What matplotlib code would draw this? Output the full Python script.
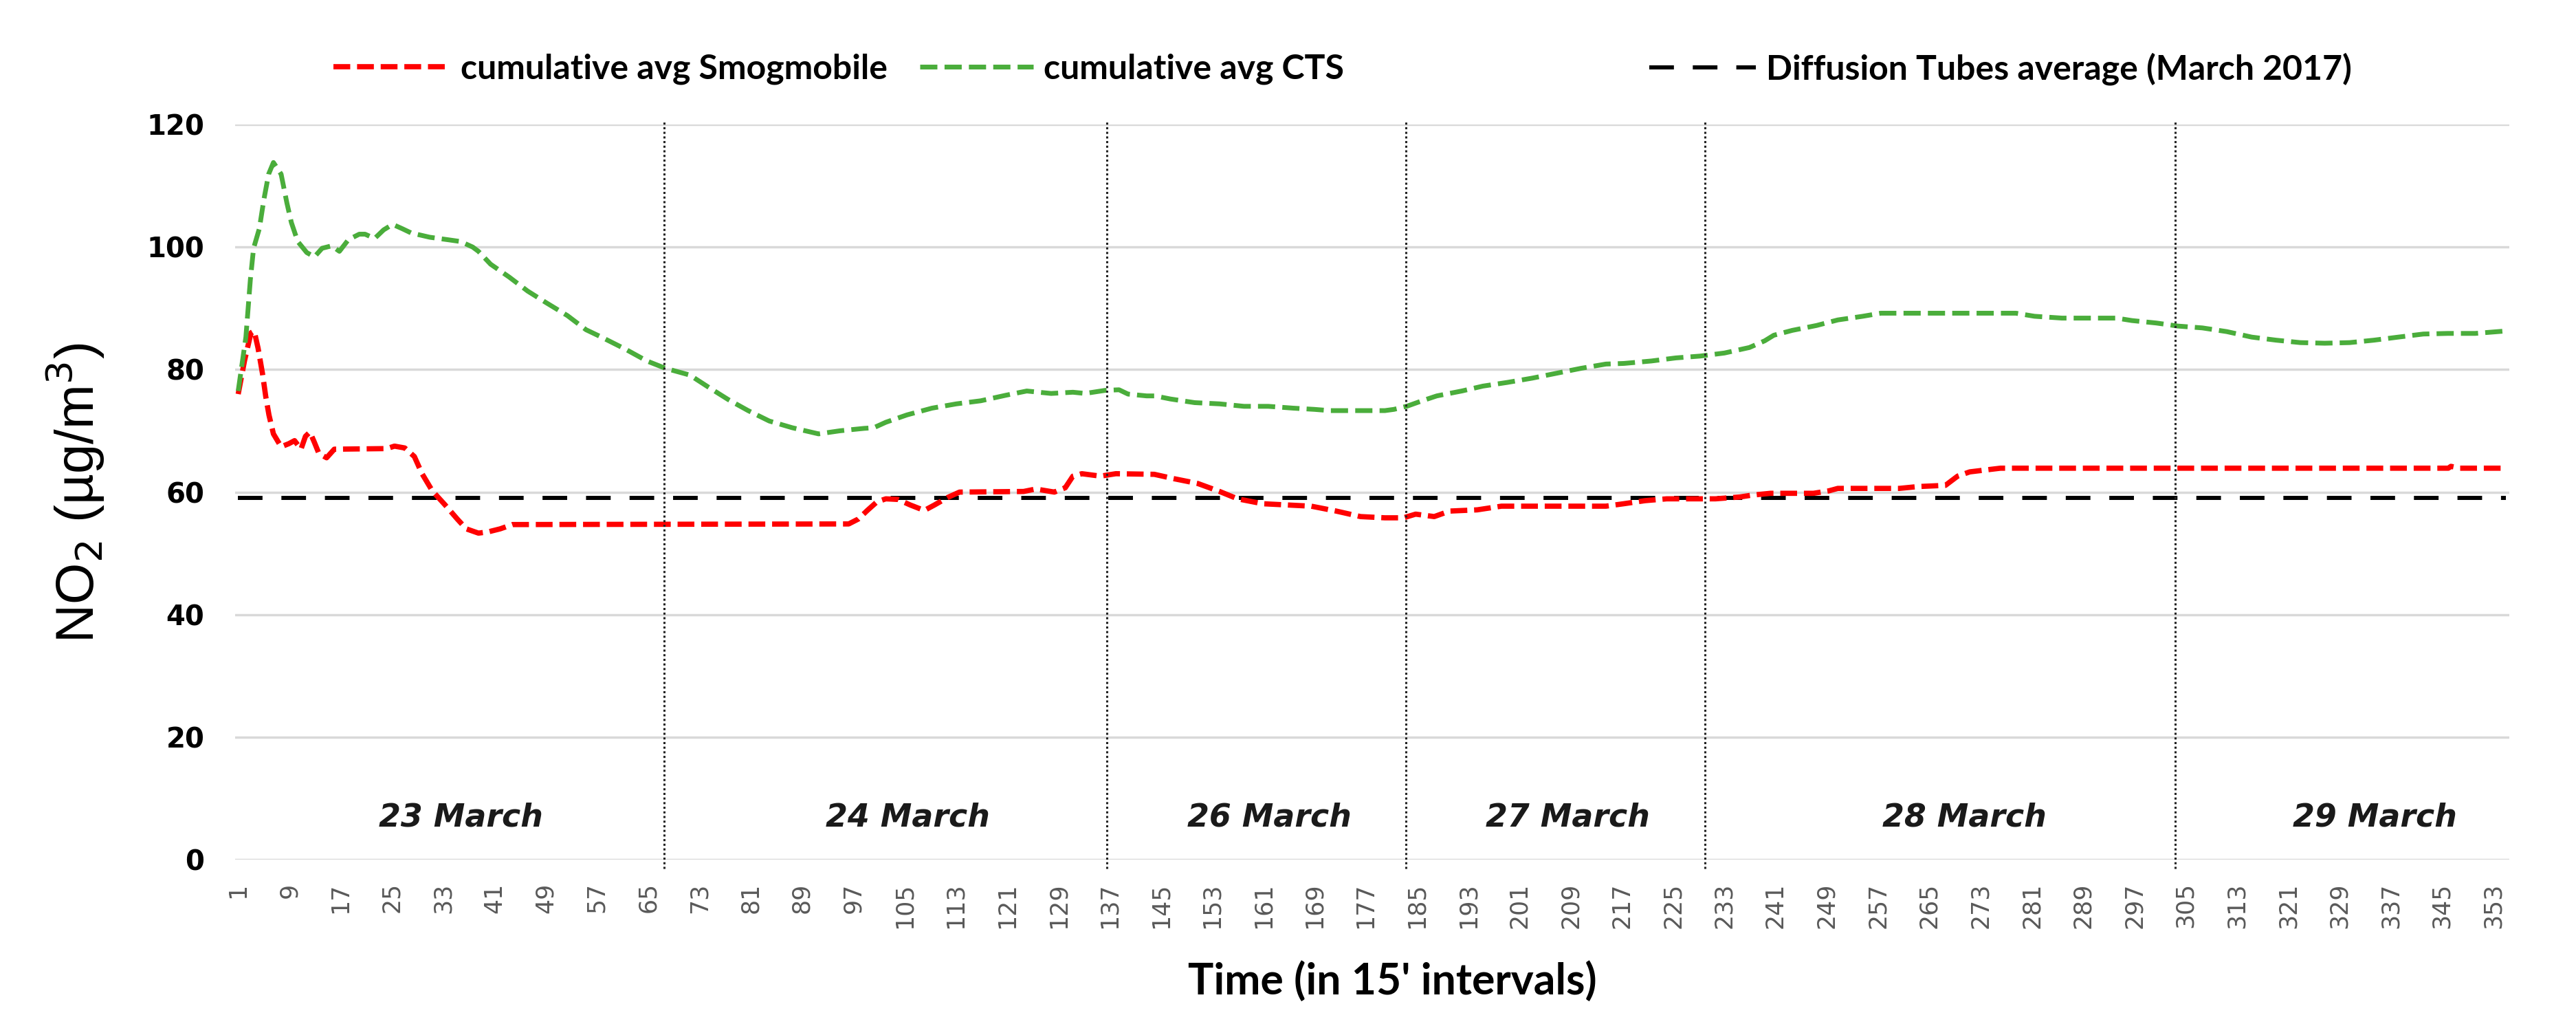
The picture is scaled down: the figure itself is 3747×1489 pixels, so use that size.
import matplotlib
matplotlib.use("Agg")
import matplotlib.pyplot as plt

# cumulative averages (x = 15' interval index, y = NO2 ug/m3)
smog_x = [1, 2, 3, 3.5, 4.1, 4.8, 5.3, 5.8, 6.5, 7.7, 8.9, 9.8, 10.8, 11.5, 12.2, 12.9,
          13.6, 14.8, 16, 24.2, 25.4, 27, 28.5, 29.7, 31.3, 33.3, 35.2, 36.6, 38.5, 40,
          41.9, 43.8, 96.3, 97.8, 99.2, 100.7, 102.1, 104, 105.9, 108.1, 109.7, 111.7,
          113.6, 123.6, 125.5, 128.4, 130.1, 131.3, 132.7, 135.6, 138, 144, 147, 150.8,
          154.2, 157, 160.9, 164.7, 168.5, 172.4, 176.2, 180, 182.9, 184.8, 187.7, 190.1,
          194.4, 198.2, 214.5, 217.3, 220.6, 224, 231.6, 235.4, 237.3, 240.2, 246.9,
          249.3, 250.7, 260.3, 263.2, 267.5, 269.4, 271.3, 273.7, 276.1, 346, 346.4,
          347.8, 355]
smog_y = [76, 81.5, 86, 86.3, 83.5, 79.3, 75.6, 72.6, 69.5, 67.4, 67.9, 68.4, 67, 69.1,
          69.8, 68.1, 66.3, 65.6, 67, 67.1, 67.5, 67.2, 65.8, 63, 60.2, 57.9, 55.6, 54,
          53.3, 53.5, 54, 54.7, 54.8, 55.6, 57, 58.4, 58.9, 58.8, 57.9, 57, 57.9, 59.1,
          60, 60.1, 60.5, 60, 60.7, 62.6, 63, 62.6, 63, 62.9, 62.2, 61.4, 60.1, 58.9,
          58.1, 57.9, 57.7, 56.9, 56, 55.8, 55.8, 56.4, 56, 56.9, 57.1, 57.7, 57.7,
          58.1, 58.6, 58.9, 58.9, 59.2, 59.5, 59.8, 59.8, 60.2, 60.6, 60.6, 60.9, 61.1,
          62.6, 63.3, 63.6, 63.9, 63.9, 64.2, 63.9, 63.9]

cts_x = [1, 2.2, 2.9, 3.4, 4.3, 5, 5.75, 6.5, 7.7, 8.6, 9.3, 10.3, 11.7, 12.9, 14.1, 15.6,
         16.8, 18.2, 19.9, 20.8, 22.3, 23.7, 25.1, 26.6, 28, 30.9, 33.7, 35.7, 37.6, 38.5,
         40.4, 43.3, 46.2, 49.1, 52.4, 55.3, 57.7, 61.5, 64.8, 67.7, 71.5, 74.3, 77.5,
         80.6, 83.9, 87.5, 91.6, 94.9, 98.7, 100.2, 102.1, 105.4, 109.3, 113.1, 116.9,
         120.8, 124.1, 127.9, 131.3, 133.2, 136.3, 138.5, 139.9, 142.8, 144.1, 146.5,
         150.3, 154.2, 158, 161.8, 165.7, 169, 171.4, 180, 181.4, 183.4, 185.8, 188.1,
         192, 195.3, 199.1, 203, 206.8, 210.6, 214.5, 217.3, 221.6, 225.4, 229.2, 233,
         236.9, 239.3, 240.7, 243.6, 247.4, 250.7, 254.6, 257.4, 278.5, 281.4, 285.7,
         294.2, 296.6, 300.4, 303.8, 307.6, 311.4, 315.3, 319.1, 322.9, 326.7, 330.6,
         334.4, 338.2, 342.1, 345.9, 350.2, 355]
cts_y = [76.5, 85.3, 94.7, 99.8, 103, 107.7, 111.9, 113.8, 111.9, 107.2, 104, 100.9,
         99.1, 98.4, 99.8, 100.2, 99.3, 101.2, 102.1, 102.1, 101.4, 102.8, 103.7, 103,
         102.3, 101.6, 101.2, 100.9, 100, 99.3, 97.2, 95.1, 92.8, 90.9, 88.8, 86.5, 85.3,
         83.3, 81.4, 80.2, 79.1, 77.2, 75.1, 73.3, 71.6, 70.5, 69.5, 70, 70.4, 70.5, 71.4,
         72.6, 73.7, 74.4, 74.9, 75.8, 76.5, 76.1, 76.3, 76.1, 76.6, 76.7, 76, 75.7, 75.7,
         75.2, 74.6, 74.4, 74, 74, 73.7, 73.5, 73.3, 73.3, 73.5, 74, 74.9, 75.7, 76.5,
         77.3, 77.9, 78.6, 79.4, 80.2, 80.9, 81, 81.4, 81.9, 82.2, 82.7, 83.6, 84.7, 85.6,
         86.4, 87.2, 88.1, 88.7, 89.2, 89.2, 88.7, 88.4, 88.4, 88, 87.6, 87.1, 86.8, 86.2,
         85.3, 84.8, 84.4, 84.3, 84.4, 84.8, 85.3, 85.8, 85.9, 85.9, 86.3]

tubes_avg = 59
n_intervals = 355

day_names = ["23 March", "24 March", "26 March", "27 March", "28 March", "29 March"]
day_centres = [35.8, 105.5, 162, 208.5, 270.5, 334.5]
day_breaks = [67.5, 136.6, 183.3, 230, 303.4]

xticks = list(range(1, n_intervals + 1, 8))
yticks = [0, 20, 40, 60, 80, 100, 120]

fig = plt.figure(figsize=(37.48, 14.89), dpi=100)
ax = fig.add_axes([0.0912, 0.1605, 0.8826, 0.7179])

l_smog, = ax.plot(smog_x, smog_y, color="#ff0000", lw=5.5, dashes=(3.2, 1.3), zorder=3,
                  label="cumulative avg Smogmobile")
l_cts, = ax.plot(cts_x, cts_y, color="#4aad3b", lw=5, dashes=(3.6, 1.5), zorder=4,
                 label="cumulative avg CTS")
l_tube, = ax.plot([1, n_intervals], [tubes_avg, tubes_avg], color="black", lw=4.3,
                  dashes=(6, 4.6), zorder=2, label="Diffusion Tubes average (March 2017)")

ax.vlines(day_breaks, -1.5, 120.8, colors="#222222", linestyles=(0, (1, 1.2)), lw=2.2,
          clip_on=False, zorder=5)
for name, xc in zip(day_names, day_centres):
    ax.text(xc, 6.9, name, ha="center", va="center", fontsize=33, fontweight="bold",
            fontstyle="italic", color="#1a1a1a")

ax.set_xlim(0.5, n_intervals + 0.5)
ax.set_ylim(0, 120)
ax.set_yticks(yticks)
ax.set_xticks(xticks)
ax.set_xticklabels([str(t) for t in xticks], rotation=90, fontsize=25, color="#595959")
ax.set_yticklabels([str(t) for t in yticks], fontsize=29, fontweight="bold")
ax.tick_params(length=0)
ax.tick_params(axis="x", pad=24)
ax.tick_params(axis="y", pad=32)
ax.grid(axis="y", color="#d9d9d9", lw=2.5)
ax.set_axisbelow(True)
for s in ax.spines.values():
    s.set_visible(False)

ax.set_ylabel("NO$_2$ (µg/m$^3$)", fontsize=56, family="Liberation Sans")
ax.yaxis.set_label_coords(-0.0701, 0.499)
ax.yaxis.label.set_va("center")
ax.set_xlabel("Time (in 15' intervals)", fontsize=45, family="Lato", fontweight="bold")
ax.xaxis.set_label_coords(0.509, -0.1656)
ax.xaxis.label.set_va("center")

# Excel-style legend: each entry sits in its own slot along the top
legend_font = {"family": "Lato", "weight": "bold", "size": 36}
for handle, x0, hl in [(l_smog, 0.1295, 3.4), (l_cts, 0.357, 3.3), (l_tube, 0.64, 3.1)]:
    fig.legend(handles=[handle], loc="center left", bbox_to_anchor=(x0, 0.933),
               frameon=False, prop=legend_font, handlelength=hl, handletextpad=0.3,
               borderpad=0, borderaxespad=0)

fig.savefig("out.png", dpi=100)
